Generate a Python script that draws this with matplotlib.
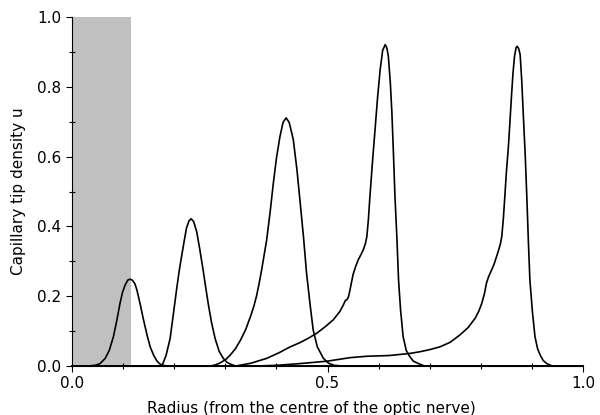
import matplotlib
matplotlib.use('Agg')
import matplotlib.pyplot as plt
from matplotlib.ticker import MultipleLocator, FormatStrFormatter

# values
x1 = [0.0, 0.03, 0.045, 0.055, 0.065, 0.073, 0.081, 0.088, 0.094, 0.099, 0.104, 0.109,
      0.1135, 0.118, 0.123, 0.127, 0.133, 0.140, 0.147, 0.153, 0.160, 0.166, 0.171, 0.177,
      0.19, 1.0]
y1 = [0.0, 0.0, 0.002, 0.007, 0.022, 0.045, 0.084, 0.133, 0.18, 0.212, 0.232, 0.246,
      0.249, 0.246, 0.236, 0.218, 0.18, 0.132, 0.088, 0.055, 0.03, 0.015, 0.007, 0.002,
      0.0, 0.0]

x2 = [0.0, 0.17, 0.177, 0.184, 0.192, 0.198, 0.205, 0.210, 0.215, 0.220, 0.224, 0.229,
      0.233, 0.238, 0.244, 0.250, 0.257, 0.262, 0.267, 0.273, 0.280, 0.288, 0.296, 0.303,
      0.309, 0.32, 1.0]
y2 = [0.0, 0.0, 0.004, 0.03, 0.079, 0.145, 0.223, 0.275, 0.319, 0.362, 0.395, 0.416,
      0.422, 0.414, 0.385, 0.335, 0.271, 0.222, 0.175, 0.125, 0.079, 0.042, 0.022, 0.011,
      0.006, 0.0, 0.0]

x3 = [0.0, 0.27, 0.28, 0.29, 0.301, 0.31, 0.32, 0.33, 0.34, 0.35, 0.356, 0.361, 0.366,
      0.371, 0.376, 0.381, 0.388, 0.394, 0.400, 0.407, 0.413, 0.419, 0.425, 0.433, 0.440,
      0.446, 0.453, 0.459, 0.466, 0.472, 0.480, 0.492, 0.502, 0.513, 0.53, 1.0]
y3 = [0.0, 0.0, 0.003, 0.009, 0.019, 0.032, 0.05, 0.075, 0.105, 0.145, 0.172, 0.2, 0.235,
      0.275, 0.318, 0.362, 0.445, 0.524, 0.595, 0.658, 0.698, 0.711, 0.698, 0.649, 0.565,
      0.476, 0.37, 0.266, 0.175, 0.103, 0.055, 0.022, 0.008, 0.002, 0.0, 0.0]

x4 = [0.0, 0.32, 0.35, 0.381, 0.405, 0.427, 0.446, 0.463, 0.479, 0.495, 0.511, 0.524,
      0.531, 0.535, 0.538, 0.541, 0.544, 0.550, 0.555, 0.560, 0.565, 0.570, 0.574, 0.577,
      0.580, 0.583, 0.588, 0.593, 0.598, 0.603, 0.608, 0.613, 0.616, 0.619, 0.623, 0.626,
      0.629, 0.632, 0.636, 0.639, 0.643, 0.648, 0.654, 0.661, 0.668, 0.678, 0.69, 1.0]
y4 = [0.0, 0.0, 0.008, 0.022, 0.038, 0.055, 0.067, 0.08, 0.094, 0.112, 0.132, 0.156,
      0.175, 0.188, 0.19, 0.198, 0.218, 0.262, 0.285, 0.304, 0.318, 0.333, 0.35, 0.371,
      0.42, 0.486, 0.585, 0.677, 0.77, 0.849, 0.905, 0.921, 0.912, 0.888, 0.81, 0.725,
      0.61, 0.486, 0.36, 0.247, 0.16, 0.084, 0.045, 0.027, 0.014, 0.007, 0.0, 0.0]

x5 = [0.0, 0.36, 0.40, 0.446, 0.50, 0.544, 0.577, 0.62, 0.661, 0.681, 0.700, 0.720,
      0.740, 0.759, 0.775, 0.789, 0.796, 0.802, 0.807, 0.811, 0.815, 0.818, 0.826, 0.834,
      0.838, 0.841, 0.844, 0.847, 0.850, 0.854, 0.857, 0.860, 0.863, 0.866, 0.869, 0.871,
      0.874, 0.877, 0.880, 0.883, 0.887, 0.890, 0.893, 0.896, 0.901, 0.906, 0.911, 0.916,
      0.922, 0.929, 0.94, 1.0]
y5 = [0.0, 0.0, 0.002, 0.007, 0.014, 0.024, 0.028, 0.03, 0.036, 0.041, 0.047, 0.055,
      0.068, 0.089, 0.11, 0.137, 0.157, 0.18, 0.207, 0.237, 0.255, 0.265, 0.292, 0.328,
      0.348, 0.371, 0.42, 0.486, 0.555, 0.629, 0.70, 0.773, 0.84, 0.888, 0.912, 0.916,
      0.91, 0.892, 0.82, 0.725, 0.60, 0.486, 0.36, 0.247, 0.155, 0.084, 0.05, 0.032,
      0.016, 0.007, 0.0, 0.0]

fig = plt.figure(figsize=(6, 4.15), dpi=100)
ax = fig.add_axes([0.12, 0.118, 0.8517, 0.841])

# optic nerve region
ax.axvspan(0, 0.115, color='#c0c0c0', lw=0, zorder=0)

for xs, ys in [(x1, y1), (x2, y2), (x3, y3), (x4, y4), (x5, y5)]:
    ax.plot(xs, ys, color='black', lw=1.2, clip_on=False)

ax.set_xlim(0, 1)
ax.set_ylim(0, 1)
ax.spines['top'].set_visible(False)
ax.spines['right'].set_visible(False)
ax.xaxis.set_major_locator(MultipleLocator(0.5))
ax.xaxis.set_minor_locator(MultipleLocator(0.1))
ax.yaxis.set_major_locator(MultipleLocator(0.2))
ax.yaxis.set_minor_locator(MultipleLocator(0.1))
ax.xaxis.set_major_formatter(FormatStrFormatter('%.1f'))
ax.yaxis.set_major_formatter(FormatStrFormatter('%.1f'))
ax.tick_params(which='major', direction='out', length=4, width=0.8, labelsize=11)
ax.tick_params(which='minor', direction='inout', length=4, width=0.8)

ax.set_xlabel("Radius (from the centre of the optic nerve)", fontsize=11)
ax.xaxis.set_label_coords(0.468, -0.1)
ax.set_ylabel("Capillary tip density u", fontsize=11, labelpad=8)

plt.savefig('out.png', dpi=100)
